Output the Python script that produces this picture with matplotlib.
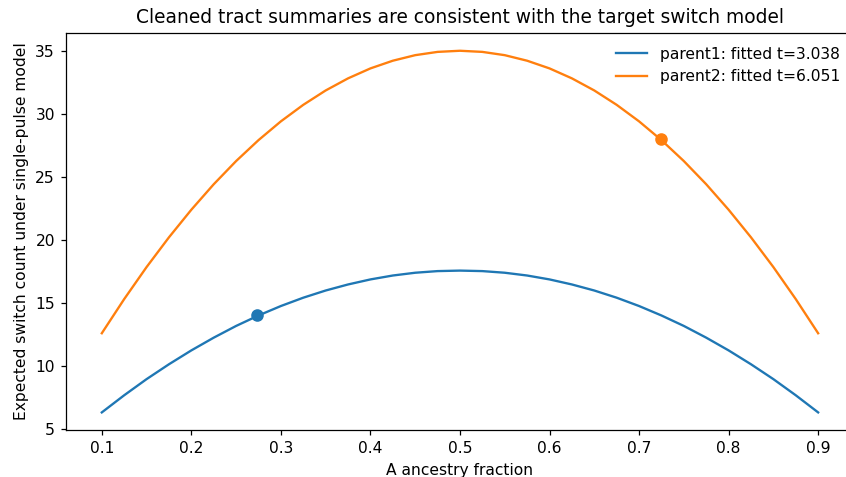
import numpy as np
import matplotlib.pyplot as plt

# ancestry fraction grid and values (symmetric about 0.5)
frac = [0.100, 0.125, 0.150, 0.175, 0.200, 0.225, 0.250, 0.275, 0.300,
        0.325, 0.350, 0.375, 0.400, 0.425, 0.450, 0.475, 0.500,
        0.525, 0.550, 0.575, 0.600, 0.625, 0.650, 0.675, 0.700,
        0.725, 0.750, 0.775, 0.800, 0.825, 0.850, 0.875, 0.900]
p1_half = [6.33, 7.69, 8.97, 10.15, 11.25, 12.26, 13.19, 14.02, 14.77,
           15.43, 16.00, 16.48, 16.88, 17.19, 17.41, 17.54, 17.58]
p2_half = [12.61, 15.32, 17.86, 20.22, 22.41, 24.43, 26.27, 27.93, 29.42,
           30.73, 31.87, 32.83, 33.62, 34.23, 34.67, 34.93, 35.02]
parent1 = p1_half + p1_half[-2::-1]
parent2 = p2_half + p2_half[-2::-1]

# observed points
p1_obs = (0.273, 14.05)
p2_obs = (0.725, 28.0)

labels = ['parent1: fitted t=3.038', 'parent2: fitted t=6.051']

fig = plt.figure(figsize=(846 / 112, 477 / 112), dpi=112)
# axes runs slightly past the right edge, as in the cropped original
ax = fig.add_axes([0.078, 0.0975, 0.9314, 0.834])
l1, = ax.plot(frac, parent1, label=labels[0])
l2, = ax.plot(frac, parent2, label=labels[1])
ax.scatter([p1_obs[0]], [p1_obs[1]], color=l1.get_color(), s=50, zorder=3)
ax.scatter([p2_obs[0]], [p2_obs[1]], color=l2.get_color(), s=50, zorder=3)

ax.set_title('Cleaned tract summaries are consistent with the target switch model')
ax.set_xlabel('A ancestry fraction')
ax.set_ylabel('Expected switch count under single-pulse model')
ax.legend(frameon=False, loc='upper right')

fig.savefig('out.png')
